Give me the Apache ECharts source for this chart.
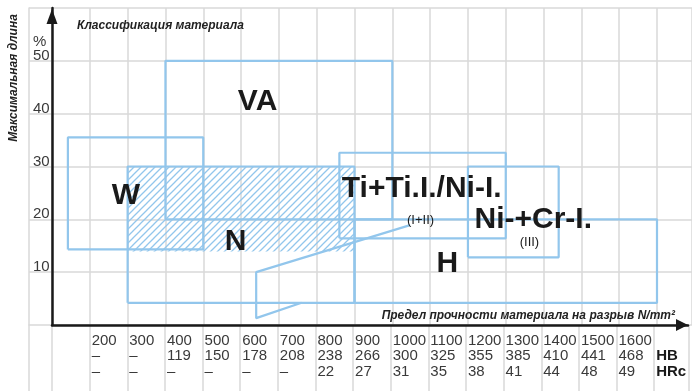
<!DOCTYPE html>
<html><head><meta charset="utf-8">
<script src="https://cdn.jsdelivr.net/npm/echarts/dist/echarts.min.js"></script>
<style>html,body{margin:0;padding:0;background:#fff}#c{width:692px;height:391px}</style>
</head><body><div id="c"></div>
<script>
// ---- data ----
const yTicks = [10, 20, 30, 40, 50];
const strength = [200, 300, 400, 500, 600, 700, 800, 900, 1000, 1100, 1200, 1300, 1400, 1500, 1600];
const hb = ['–', '–', '119', '150', '178', '208', '238', '266', '300', '325', '355', '385', '410', '441', '468'];
const hrc = ['–', '–', '–', '–', '–', '–', '22', '27', '31', '35', '38', '41', '44', '48', '49'];
const rowNames = ['HB', 'HRc'];
// zones: [strength from, strength to, elongation from, elongation to]
const zoneW = [142, 500, 14.3, 35.5];
const zoneVA = [400, 1000, 20, 50];
const zoneN = [300, 900, 4.2, 30];
const zoneH = [900, 1700, 4.2, 20];
const zoneTi = [860, 1300, 16.4, 32.6];
const zoneNiCr = [1200, 1440, 12.8, 30];
const hatchN = [300, 900, 13.9, 30];
const pointerLine = [[1047, 18.9], [640, 10.0], [640, 1.3], [760, 4.2]];
const bigLabels = [['VA', 645, 42.2], ['W', 297, 24.4], ['N', 587, 15.6], ['H', 1147, 11.5],
                   ['Ti+Ti.I./Ni-I.', 1079, 25.7], ['Ni-+Cr-I.', 1374, 19.9]];
const smallLabels = [['(I+II)', 1076, 19.7], ['(III)', 1364, 15.5]];

// ---- styling ----
const BLUE = '#92c6ec';
const GRAY = '#d9d9d9';
const BLACK = '#1a1a1a';
const X_MIN = 100, STEP_PX = 37.8125;
const xMaxFor = w => X_MIN + w / STEP_PX * 100;

const pat = document.createElement('canvas');
pat.width = 7; pat.height = 7;
(function () {
  const g = pat.getContext('2d');
  g.strokeStyle = BLUE; g.lineWidth = 1.3;
  g.beginPath();
  g.moveTo(-1, 8); g.lineTo(8, -1);
  g.moveTo(-2, 2); g.lineTo(2, -2);
  g.moveTo(5, 9); g.lineTo(9, 5);
  g.stroke();
})();

function rectPath(r) { return [[r[0], r[2]], [r[1], r[2]], [r[1], r[3]], [r[0], r[3]], [r[0], r[2]]]; }
const outline = (data) => ({ type: 'line', xAxisIndex: 0, yAxisIndex: 0, data: data, symbol: 'none',
  lineStyle: { color: BLUE, width: 2.2 }, z: 3, animation: false, silent: true });

const tableLabel = {};
strength.forEach((s, i) => { tableLabel[s] = s + '\n' + hb[i] + '\n' + hrc[i]; });

const NUMFONT = '"Liberation Sans", Arial, sans-serif';
const BIGFONT = '"Liberation Sans", Arial, sans-serif';
const TITLEFONT = 'italic bold 12px "Liberation Sans", sans-serif';

const labelSeries = (items, extra) => ({
  type: 'scatter', xAxisIndex: 0, yAxisIndex: 0, symbolSize: 1, z: 5, silent: true,
  itemStyle: { opacity: 0 },
  data: items.map(d => ({ name: d[0], value: [d[1], d[2]] })),
  label: Object.assign({ show: true, position: [0, 0], align: 'center', verticalAlign: 'middle',
    formatter: p => p.name, fontFamily: BIGFONT, color: BLACK, opacity: 1, textBorderWidth: 0 }, extra)
});

const chart = echarts.init(document.getElementById('c'), null, { renderer: 'canvas' });
chart.setOption({
  animation: false,
  backgroundColor: '#fff',
  grid: [
    { left: 52, top: 8, width: 640, height: 317 },
    { left: 52, top: 325, width: 640, height: 66 },
    { left: 29, top: 8, width: 23, height: 317 },
    { left: 29, top: 325, width: 23, height: 66 },
    { left: 52, top: 8, width: 636, height: 317 }
  ],
  xAxis: [
    { gridIndex: 0, type: 'value', min: X_MIN, max: xMaxFor(640), interval: 100,
      axisLine: { show: false }, axisTick: { show: false }, axisLabel: { show: false },
      splitLine: { show: true, lineStyle: { color: GRAY, width: 1.5 } } },
    { gridIndex: 1, type: 'value', position: 'top', min: X_MIN, max: xMaxFor(640), interval: 100,
      axisLine: { show: false }, axisTick: { show: false },
      splitLine: { show: true, lineStyle: { color: GRAY, width: 1.5 } },
      axisLabel: { show: true, inside: true, margin: 8, align: 'left', verticalAlign: 'top',
        padding: [0, 0, 0, 2], fontFamily: NUMFONT, fontSize: 15, lineHeight: 15.5, color: '#3a3a3a',
        formatter: v => tableLabel[v] !== undefined ? tableLabel[v]
          : (v === 1700 ? '{n| }\n{b|' + rowNames[0] + '}\n{b|' + rowNames[1] + '}' : ''),
        rich: { n: { fontSize: 15, lineHeight: 15.5 },
                b: { fontSize: 15, lineHeight: 15.5, fontWeight: 'bold', color: BLACK, fontFamily: NUMFONT } } } },
    { gridIndex: 2, type: 'value', min: 0, max: 1, show: false },
    { gridIndex: 3, type: 'value', min: 0, max: 1, show: false },
    { gridIndex: 4, type: 'value', min: X_MIN, max: xMaxFor(636), interval: 100,
      axisLine: { show: true, onZero: false, lineStyle: { color: BLACK, width: 2.5 },
        symbol: ['none', 'triangle'], symbolSize: [12, 12], symbolOffset: [0, -6] },
      axisTick: { show: false }, axisLabel: { show: false }, splitLine: { show: false } }
  ],
  yAxis: [
    { gridIndex: 0, type: 'value', min: 0, max: 60, interval: 10,
      axisLine: { show: true, lineStyle: { color: BLACK, width: 2.5 },
        symbol: ['none', 'triangle'], symbolSize: [11, 15], symbolOffset: [0, -8.5] },
      axisTick: { show: false },
      splitLine: { show: true, lineStyle: { color: GRAY, width: 1.5 } },
      axisLabel: { show: true, align: 'left', margin: 19, verticalAlign: 'bottom', lineHeight: 10,
        fontFamily: NUMFONT, fontSize: 15, color: '#3a3a3a',
        formatter: v => yTicks.indexOf(v) >= 0 ? String(v) : '' } },
    { gridIndex: 1, type: 'value', min: 0, max: 1, show: false },
    { gridIndex: 2, type: 'value', min: 0, max: 60, interval: 10,
      axisLine: { show: true, lineStyle: { color: GRAY, width: 1.5 } },
      axisTick: { show: false }, axisLabel: { show: false },
      splitLine: { show: true, lineStyle: { color: GRAY, width: 1.5 } } },
    { gridIndex: 3, type: 'value', min: 0, max: 1,
      axisLine: { show: true, lineStyle: { color: GRAY, width: 1.5 } },
      axisTick: { show: false }, axisLabel: { show: false }, splitLine: { show: false } },
    { gridIndex: 4, type: 'value', min: 0, max: 60, show: false }
  ],
  series: [
    { type: 'custom', xAxisIndex: 0, yAxisIndex: 0, data: [hatchN], z: 2, silent: true,
      encode: { x: [0, 1], y: [2, 3] },
      renderItem: function (params, api) {
        const p1 = api.coord([api.value(0), api.value(3)]);
        const p2 = api.coord([api.value(1), api.value(2)]);
        return { type: 'rect', shape: { x: p1[0], y: p1[1], width: p2[0] - p1[0], height: p2[1] - p1[1] },
          style: { fill: { image: pat, repeat: 'repeat' } } };
      } },
    outline(rectPath(zoneW)),
    outline(rectPath(zoneVA)),
    outline(rectPath(zoneN)),
    outline(rectPath(zoneH)),
    outline(rectPath(zoneTi)),
    outline(rectPath(zoneNiCr)),
    outline(pointerLine),
    labelSeries(bigLabels, { fontWeight: 'bold', fontSize: 30 }),
    labelSeries(smallLabels, { fontSize: 13 })
  ],
  graphic: [
    { type: 'text', left: 77, top: 20, z: 10,
      style: { text: 'Классификация материала', font: TITLEFONT, fill: '#222' } },
    { type: 'text', left: 33, top: 34, z: 10,
      style: { text: '%', font: '15px "Liberation Sans", sans-serif', fill: '#3a3a3a' } },
    { type: 'text', x: 14, y: 78, rotation: Math.PI / 2, z: 10,
      style: { text: 'Максимальная длина', font: TITLEFONT, fill: '#222',
        textAlign: 'center', textVerticalAlign: 'middle' } },
    { type: 'text', x: 675, y: 315.5, z: 10,
      style: { text: 'Предел прочности материала на разрыв N/mm²', font: TITLEFONT,
        fill: '#222', textAlign: 'right', textVerticalAlign: 'middle' } }
  ]
});
</script></body></html>
